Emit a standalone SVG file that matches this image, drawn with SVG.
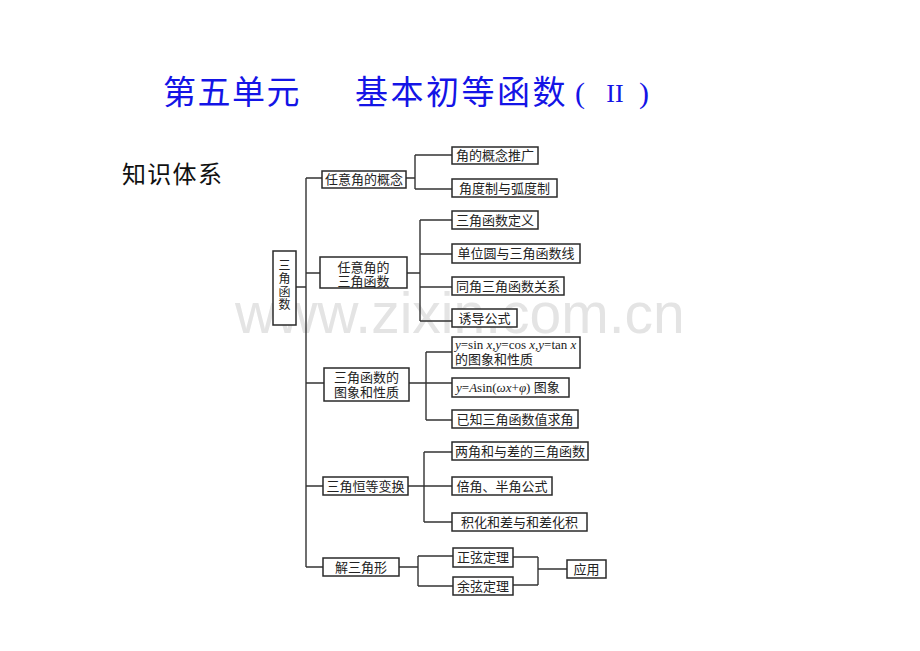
<svg xmlns="http://www.w3.org/2000/svg" width="920" height="651" viewBox="0 0 920 651">
<style>
.bx{fill:#fff;stroke:#2a2a2a;stroke-width:1.5}
.t{font-family:"Noto Sans CJK SC","Noto Sans",sans-serif;font-size:13px;fill:#222;text-anchor:middle}
.tv{font-family:"Noto Sans CJK SC","Noto Sans",sans-serif;font-size:12px;fill:#222;text-anchor:middle}
.ts{font-family:"Liberation Serif","Noto Sans CJK SC",serif;font-size:13px;fill:#222}
.cj{font-family:"Noto Sans CJK SC",sans-serif}
.i{font-style:italic}
.ln{fill:none;stroke:#333;stroke-width:1.4}
.title{font-family:"Noto Sans CJK SC",sans-serif;font-size:33px;fill:#1414e6}
</style>
<rect width="920" height="651" fill="#fff"/>
<text x="235" y="333" font-family="Liberation Sans,Arial,sans-serif" font-size="57" fill="#e4e4e4">www.zixin.com.cn</text>
<g id="title">
<text class="title" x="163" y="104" letter-spacing="1.5">第五单元</text>
<text class="title" x="355" y="104" letter-spacing="2.5">基本初等函数</text>
<text x="580" y="103" font-family="Liberation Serif,serif" font-size="30" fill="#1414e6" text-anchor="middle">(</text>
<text x="615" y="102" font-family="Liberation Serif,serif" font-size="26" fill="#1414e6" text-anchor="middle">II</text>
<text x="644" y="103" font-family="Liberation Serif,serif" font-size="30" fill="#1414e6" text-anchor="middle">)</text>
</g>
<g id="subtitle"><text x="122" y="183" font-family="Noto Sans CJK SC,sans-serif" font-size="24" fill="#111" letter-spacing="1.3">知识体系</text></g>
<g id="connectors">
<path class="ln" d="M296 287H306M306 178V567M306 178H322M306 273H320M306 383H324M306 486H323M306 567H323"/>
<path class="ln" d="M406 178H415M415 155V189M415 155H452M415 189H452"/>
<path class="ln" d="M407 273H420M420 220V321M420 220H452M420 254H452M420 287H452M420 321H452"/>
<path class="ln" d="M409 383H452M426 352V420M426 352H452M426 420H452"/>
<path class="ln" d="M408 486H452M424 452V522M424 452H452M424 522H452"/>
<path class="ln" d="M399 567H418M418 556V586M418 556H453M418 586H453"/>
<path class="ln" d="M513 557H538M513 585H538M538 557V585M538 569H567"/>
</g>
<g id="root"><rect class="bx" x="273" y="251" width="23" height="74"/>
<text class="tv" x="284.5" y="269.5">三</text><text class="tv" x="284.5" y="282.5">角</text><text class="tv" x="284.5" y="295.5">函</text><text class="tv" x="284.5" y="308.5">数</text></g>
<g id="n1"><rect class="bx" x="322" y="171" width="84" height="17"/><text class="t" x="364" y="184">任意角的概念</text></g>
<g id="n11"><rect class="bx" x="452" y="147" width="86" height="17"/><text class="t" x="495" y="160">角的概念推广</text></g>
<g id="n12"><rect class="bx" x="452" y="179" width="105" height="18"/><text class="t" x="504.5" y="192.5">角度制与弧度制</text></g>
<g id="n2"><rect class="bx" x="320" y="257" width="87" height="31"/><text class="t" x="363.5" y="271.5">任意角的</text><text class="t" x="363.5" y="285.5">三角函数</text></g>
<g id="n21"><rect class="bx" x="452" y="211" width="86" height="18"/><text class="t" x="495" y="224.5">三角函数定义</text></g>
<g id="n22"><rect class="bx" x="452" y="244" width="128" height="19"/><text class="t" x="516" y="258">单位圆与三角函数线</text></g>
<g id="n23"><rect class="bx" x="452" y="277" width="112" height="18"/><text class="t" x="508" y="290.5">同角三角函数关系</text></g>
<g id="n24"><rect class="bx" x="452" y="309" width="65" height="18"/><text class="t" x="484.5" y="322.5">诱导公式</text></g>
<g id="n3"><rect class="bx" x="324" y="368" width="85" height="33"/><text class="t" x="366.5" y="382">三角函数的</text><text class="t" x="366.5" y="397">图象和性质</text></g>
<g id="n31"><rect class="bx" x="452" y="337" width="128" height="31"/>
<text class="ts" x="455" y="348.5"><tspan class="i">y</tspan>=sin <tspan class="i">x</tspan>,<tspan class="i">y</tspan>=cos <tspan class="i">x</tspan>,<tspan class="i">y</tspan>=tan <tspan class="i">x</tspan></text>
<text class="t" x="455" y="363.5" style="text-anchor:start">的图象和性质</text></g>
<g id="n32"><rect class="bx" x="452" y="378" width="117" height="19"/>
<text class="ts" x="456" y="392"><tspan class="i">y</tspan>=<tspan class="i">A</tspan>sin(<tspan class="i">ωx</tspan>+<tspan class="i">φ</tspan>) <tspan class="cj">图象</tspan></text></g>
<g id="n33"><rect class="bx" x="452" y="410" width="126" height="18"/><text class="t" x="515" y="423.5">已知三角函数值求角</text></g>
<g id="n4"><rect class="bx" x="323" y="477" width="85" height="18"/><text class="t" x="365.5" y="490.5">三角恒等变换</text></g>
<g id="n41"><rect class="bx" x="452" y="442" width="136" height="18"/><text class="t" x="520" y="455.5">两角和与差的三角函数</text></g>
<g id="n42"><rect class="bx" x="452" y="477" width="100" height="18"/><text class="t" x="502" y="490.5">倍角、半角公式</text></g>
<g id="n43"><rect class="bx" x="452" y="513" width="135" height="18"/><text class="t" x="519.5" y="526.5">积化和差与和差化积</text></g>
<g id="n5"><rect class="bx" x="323" y="558" width="76" height="18"/><text class="t" x="361" y="571.5">解三角形</text></g>
<g id="n51"><rect class="bx" x="453" y="548" width="60" height="19"/><text class="t" x="483" y="562">正弦定理</text></g>
<g id="n52"><rect class="bx" x="453" y="577" width="60" height="18"/><text class="t" x="483" y="590.5">余弦定理</text></g>
<g id="n6"><rect class="bx" x="567" y="560" width="39" height="18"/><text class="t" x="586.5" y="573.5">应用</text></g>
</svg>
